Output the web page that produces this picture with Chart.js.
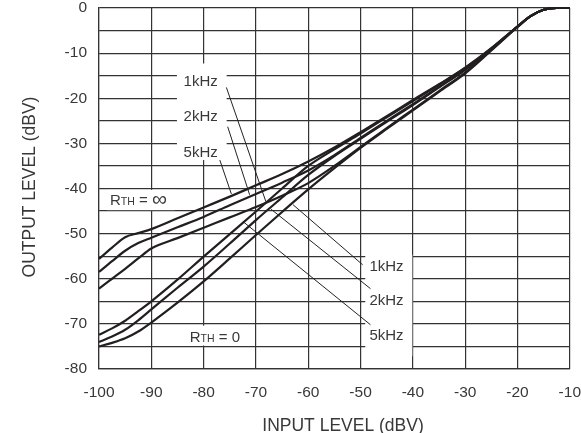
<!DOCTYPE html>
<html>
<head>
<meta charset="utf-8">
<script src="https://cdn.jsdelivr.net/npm/chart.js@4.4.1/dist/chart.umd.min.js"></script>
<style>
    html, body { margin: 0; padding: 0; background: #fff; }
    #wrap { width: 581px; height: 433px; }
</style>
</head>
<body>
<div id="wrap"><canvas id="levelChart" width="581" height="433"></canvas></div>
<script>
// input level (dBV) sample points
const inputLevels = [-100, -97.5, -95, -92.5, -90, -85, -80, -75, -70, -65, -60, -55, -50, -45, -40, -35, -30, -25, -20, -17.5, -15, -12.5, -10];

// output level (dBV), RTH = infinity
const out5kInf = [-55.6, -53.1, -50.8, -49.9, -49.0, -46.6, -44.2, -41.8, -39.3, -36.8, -34.0, -30.9, -27.5, -24.0, -20.4, -16.9, -13.2, -8.9, -4.1, -1.8, -0.4, 0, 0];
const out2kInf = [-58.5, -56.1, -53.8, -52.1, -50.9, -48.6, -46.3, -43.7, -41.2, -38.7, -36.0, -32.6, -28.8, -25.0, -21.3, -17.5, -13.6, -9.0, -4.1, -1.8, -0.4, 0, 0];
const out1kInf = [-62.2, -60.0, -57.8, -55.5, -53.3, -51.0, -48.7, -46.4, -44.1, -41.6, -38.8, -35.0, -30.8, -26.6, -22.5, -18.4, -14.3, -9.3, -4.2, -1.8, -0.4, 0, 0];

// output level (dBV), RTH = 0
const out5kZero = [-72.4, -71.0, -69.3, -67.2, -65.0, -60.2, -55.1, -50.1, -45.1, -40.0, -35.0, -31.3, -27.8, -24.2, -20.6, -17.0, -13.3, -9.0, -4.1, -1.8, -0.4, 0, 0];
const out2kZero = [-74.0, -72.8, -71.3, -69.2, -66.8, -62.0, -57.3, -52.2, -47.0, -42.0, -37.0, -32.8, -29.0, -25.2, -21.5, -17.6, -13.7, -9.1, -4.1, -1.8, -0.4, 0, 0];
const out1kZero = [-75.0, -74.2, -73.2, -71.7, -69.7, -65.3, -60.6, -55.5, -50.3, -45.2, -40.2, -35.5, -31.0, -26.8, -22.7, -18.6, -14.5, -9.4, -4.2, -1.8, -0.4, 0, 0];

const yLabelStep = 10;

// notes drawn on the plot (data coordinates)
const noteBoxes = [
    [-85.1, -75.6, -12.3, -33.7],
    [-98.5, -85.5, -40.3, -44.8],
    [-83.6, -71.6, -70.4, -74.8],
    [-49.1, -40.1, -54.7, -77.2]
];
const leaderLines = [
    [-75.65, -17.6, -68.1, -42.9],
    [-75.4, -26.3, -71.2, -41.4],
    [-76.9, -33.7, -74.7, -41.2],
    [-62.9, -43.6, -49.6, -56.9],
    [-67.1, -44.6, -48.1, -62.2],
    [-72.5, -47.3, -48.1, -70.2]
];
const noteTexts = [
    ['1kHz', -77.3, -16.4, 'right'],
    ['2kHz', -77.3, -24.1, 'right'],
    ['5kHz', -77.3, -32.0, 'right'],
    ['1kHz', -48.3, -57.4, 'left'],
    ['2kHz', -48.3, -65.0, 'left'],
    ['5kHz', -48.3, -72.75, 'left']
];
const rthNotes = [
    ['\u221E', -97.9, -42.5, 21],
    ['0', -82.65, -72.8, 15]
];

const fontFamily = '"Liberation Sans", Arial, Helvetica, sans-serif';
const textColor = '#383838';

function toPoints(values) {
    return inputLevels.map((x, i) => ({ x: x, y: values[i] }));
}

function curve(values) {
    return {
        data: toPoints(values),
        borderColor: '#231f20',
        borderWidth: 2.2,
        pointRadius: 0,
        fill: false,
        cubicInterpolationMode: 'monotone',
        clip: 4
    };
}

const notesPlugin = {
    id: 'notesPlugin',
    beforeDatasetsDraw(chart) {
        const { ctx, scales: { x, y } } = chart;
        ctx.save();
        ctx.fillStyle = '#fff';
        noteBoxes.forEach(b => {
            const x1 = x.getPixelForValue(b[0]);
            const x2 = x.getPixelForValue(b[1]);
            const y1 = y.getPixelForValue(b[2]);
            const y2 = y.getPixelForValue(b[3]);
            ctx.fillRect(x1, y1, x2 - x1, y2 - y1);
        });

        ctx.strokeStyle = '#222';
        ctx.lineWidth = 1;
        leaderLines.forEach(l => {
            ctx.beginPath();
            ctx.moveTo(x.getPixelForValue(l[0]), y.getPixelForValue(l[1]));
            ctx.lineTo(x.getPixelForValue(l[2]), y.getPixelForValue(l[3]));
            ctx.stroke();
        });

        ctx.fillStyle = textColor;
        ctx.font = '15px ' + fontFamily;
        ctx.textBaseline = 'middle';
        noteTexts.forEach(t => {
            ctx.textAlign = t[3];
            ctx.fillText(t[0], x.getPixelForValue(t[1]), y.getPixelForValue(t[2]));
        });

        ctx.textAlign = 'left';
        ctx.textBaseline = 'alphabetic';
        rthNotes.forEach(n => {
            let px = x.getPixelForValue(n[1]);
            const base = y.getPixelForValue(n[2]) + 5.5;
            ctx.font = '15px ' + fontFamily;
            ctx.fillText('R', px, base);
            px += ctx.measureText('R').width;
            ctx.font = '10.5px ' + fontFamily;
            ctx.fillText('TH', px, base);
            px += ctx.measureText('TH').width;
            ctx.font = '15px ' + fontFamily;
            ctx.fillText(' = ', px, base);
            px += ctx.measureText(' = ').width;
            ctx.font = n[3] + 'px ' + fontFamily;
            ctx.fillText(n[0], px, base + (n[3] > 15 ? 1 : 0));
        });
        ctx.restore();
    },
    afterDraw(chart) {
        const { ctx } = chart;
        ctx.save();
        ctx.fillStyle = textColor;
        ctx.font = '17.5px ' + fontFamily;
        ctx.textAlign = 'center';
        ctx.textBaseline = 'middle';
        ctx.fillText('INPUT LEVEL (dBV)', 343, 426);
        ctx.translate(30, 187);
        ctx.rotate(-Math.PI / 2);
        ctx.fillText('OUTPUT LEVEL (dBV)', 0, 0);
        ctx.restore();
    }
};

const ctx = document.getElementById('levelChart').getContext('2d');
new Chart(ctx, {
    type: 'line',
    data: {
        datasets: [
            curve(out5kInf),
            curve(out2kInf),
            curve(out1kInf),
            curve(out5kZero),
            curve(out2kZero),
            curve(out1kZero)
        ]
    },
    options: {
        responsive: false,
        animation: false,
        layout: { padding: { top: 8, right: 10, left: 0, bottom: 0 } },
        plugins: {
            legend: { display: false },
            tooltip: { enabled: false }
        },
        scales: {
            x: {
                type: 'linear',
                min: -100,
                max: -10,
                afterFit: scale => { scale.height = 64; },
                grid: { color: '#333', lineWidth: 1.2, drawTicks: true, tickLength: 14, tickColor: 'rgba(0,0,0,0)' },
                border: { color: '#333', width: 1.2 },
                ticks: {
                    stepSize: 10,
                    padding: 0,
                    color: textColor,
                    maxRotation: 0,
                    font: { family: fontFamily, size: 15.5, lineHeight: 1.2 },
                    callback: v => String(v)
                }
            },
            y: {
                min: -80,
                max: 0,
                afterFit: scale => { scale.width = 99; },
                grid: { color: '#333', lineWidth: 1.2, drawTicks: true, tickLength: 12, tickColor: 'rgba(0,0,0,0)' },
                border: { color: '#333', width: 1.2 },
                ticks: {
                    stepSize: 5,
                    padding: 0,
                    color: textColor,
                    font: { family: fontFamily, size: 15.5, lineHeight: 1 },
                    callback: v => (v % yLabelStep === 0 ? String(v) : '')
                }
            }
        }
    },
    plugins: [notesPlugin]
});
</script>
</body>
</html>
